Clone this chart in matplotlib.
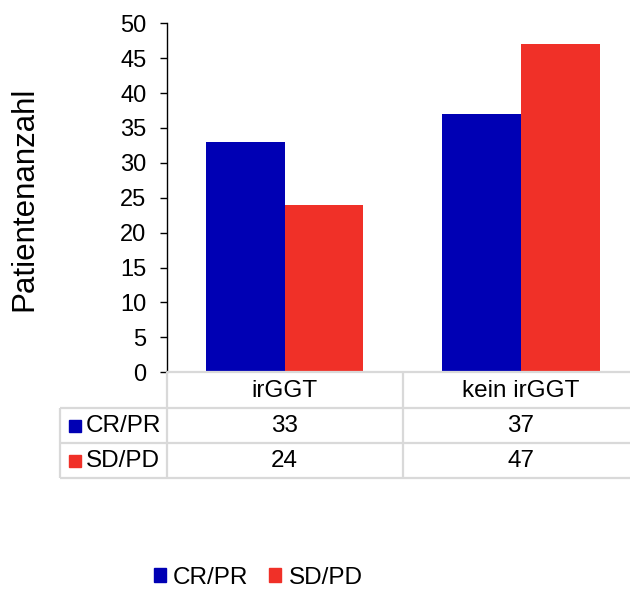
import matplotlib.pyplot as plt
from matplotlib.patches import Patch
import numpy as np

plt.rcParams['font.family'] = ['Liberation Sans', 'DejaVu Sans']

categories = ["irGGT", "kein irGGT"]
series = ["CR/PR", "SD/PD"]
crpr = [33, 37]
sdpd = [24, 47]
colors = ["#0000B4", "#F03028"]
grid_gray = "#D9D9D9"

W, H = 630, 590
fig = plt.figure(figsize=(W / 100, H / 100), dpi=100)

# plot area in pixels (right edge runs slightly past the image like the original)
left_px, right_px, top_px, zero_px = 166.5, 639.0, 23.3, 372.3
ax = fig.add_axes([left_px / W, 1 - zero_px / H, (right_px - left_px) / W, (zero_px - top_px) / H])

x = np.arange(len(categories))
bw = 1 / 3
ax.bar(x - bw / 2, crpr, width=bw, color=colors[0], label=series[0])
ax.bar(x + bw / 2, sdpd, width=bw, color=colors[1], label=series[1])

ax.set_xlim(-0.5, len(categories) - 0.5)
ax.set_ylim(0, 50)
ax.set_yticks(range(0, 51, 5))
ax.set_xticks([])
ax.tick_params(axis='y', labelsize=17, length=5, width=1, pad=9.5, colors='black')
for s in ["top", "right", "bottom"]:
    ax.spines[s].set_visible(False)
ax.spines["left"].set_linewidth(1)

fs = 17.5


def fx(px):
    return px / W


def fy(py):
    return 1 - py / H


fig.text(fx(24), fy(199), "Patientenanzahl", rotation=90, ha='center', va='center', fontsize=22.5)

# data table under the axis
row_h = 35.2
label_left_px = 60.0


def data_to_px(xv):
    disp = ax.transData.transform((xv, 0))
    return disp[0] * W / fig.bbox.width


col_edges = [data_to_px(v) for v in np.arange(-0.5, len(categories), 1.0)]
line_kw = dict(color=grid_gray, lw=1.6, solid_capstyle='butt')
n_rows = 1 + len(series)
bottom_px = zero_px + n_rows * row_h

# horizontal lines
fig.add_artist(plt.Line2D([fx(col_edges[0]), fx(col_edges[-1])], [fy(zero_px)] * 2, **line_kw))
for r in range(1, n_rows + 1):
    yy = zero_px + r * row_h
    fig.add_artist(plt.Line2D([fx(label_left_px), fx(col_edges[-1])], [fy(yy)] * 2, **line_kw))
# vertical lines
for xe in col_edges:
    fig.add_artist(plt.Line2D([fx(xe)] * 2, [fy(zero_px), fy(bottom_px)], **line_kw))
fig.add_artist(plt.Line2D([fx(label_left_px)] * 2, [fy(zero_px + row_h), fy(bottom_px)], **line_kw))

# category row
for i, c in enumerate(categories):
    cx = data_to_px(i)
    fig.text(fx(cx), fy(zero_px + row_h / 2 + 1), c, ha='center', va='center', fontsize=fs)

# value rows
table_vals = [crpr, sdpd]
for r, (name, vals, col) in enumerate(zip(series, table_vals, colors)):
    yc = zero_px + (r + 1.5) * row_h + 1
    fig.add_artist(plt.Rectangle((fx(69), fy(yc + 6)), 12 / W, 12 / H, color=col, transform=fig.transFigure))
    fig.text(fx(86), fy(yc), name, ha='left', va='center', fontsize=fs)
    for i, v in enumerate(vals):
        fig.text(fx(data_to_px(i)), fy(yc), str(v), ha='center', va='center', fontsize=fs)

# legend at the bottom
handles = [Patch(color=c, label=s) for c, s in zip(colors, series)]
fig.legend(handles=handles, loc='center', bbox_to_anchor=(fx(258), fy(578)), ncol=2, frameon=False,
           fontsize=fs, handlelength=0.5, handleheight=0.5, handletextpad=0.3, columnspacing=0.85,
           borderpad=0.1, borderaxespad=0)

fig.savefig("out.png", dpi=100)
